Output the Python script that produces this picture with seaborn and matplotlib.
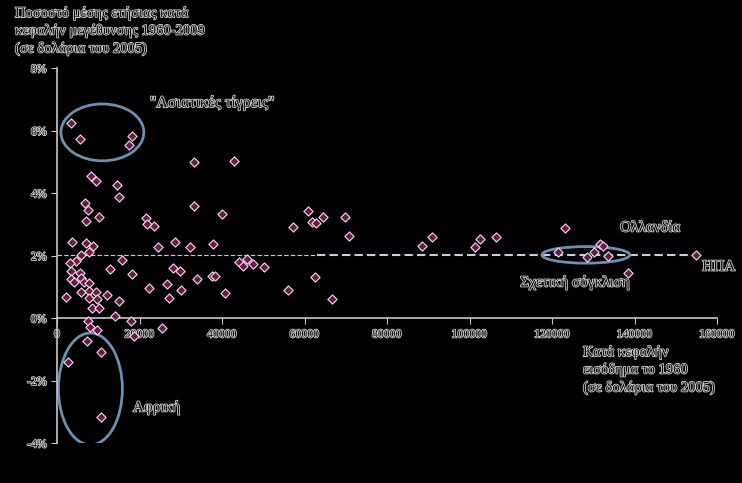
import matplotlib
matplotlib.use("Agg")
import matplotlib.pyplot as plt
import matplotlib.patheffects as pe
from matplotlib.patches import Ellipse
import pandas as pd
import seaborn as sns

# Income per capita in 1960 (2005 dollars) and average annual growth 1960-2009 (%)
income_1960 = [3400, 5600, 18200, 17500,
               33200, 42900, 8200, 9500, 14500, 15000, 6700, 7400, 10200, 7000,
               33200, 39900, 21600, 21900, 23500, 3700, 7000, 8800, 7800, 5700,
               4500, 3200, 3400, 3400, 4000, 5600, 5800, 6500, 7800, 5700, 2300,
               7800, 9500, 7800, 9600, 8400, 10100, 12800, 15800, 18300, 12200,
               15100, 14100, 17900, 24600, 28600, 32200, 37700, 28000, 29700,
               33900, 37600, 38300, 26600, 22200, 30100, 27100, 40700, 44000,
               45100, 46000, 47400, 50200, 56100, 7400, 8000, 9600, 25500, 18700,
               7200, 10600, 2600, 10600,
               57100, 60900, 61900, 62900, 64400, 69800, 70900, 88600, 90900,
               101300, 102500, 106400, 62500, 66600,
               123100, 121500, 128600, 130200, 131600, 132400, 133600, 138400,
               154800]
growth = [6.25, 5.74, 5.81, 5.55,
          4.99, 5.02, 4.53, 4.37, 4.25, 3.87, 3.68, 3.45, 3.24, 3.11,
          3.60, 3.32, 3.20, 3.01, 2.96, 2.42, 2.39, 2.30, 2.10, 2.02,
          1.83, 1.77, 1.51, 1.24, 1.16, 1.45, 1.27, 1.16, 1.11, 0.84, 0.68,
          0.87, 0.83, 0.63, 0.61, 0.32, 0.31, 1.56, 1.86, 1.40, 0.75,
          0.55, 0.05, -0.09, 2.28, 2.42, 2.28, 2.37, 1.60, 1.50,
          1.26, 1.34, 1.35, 1.10, 0.95, 0.91, 0.64, 0.79, 1.79,
          1.65, 1.90, 1.72, 1.63, 0.89, -0.11, -0.28, -0.38, -0.33, -0.56,
          -0.74, -1.08, -1.42, -3.18,
          2.92, 3.43, 3.07, 3.05, 3.24, 3.24, 2.64, 2.32, 2.60,
          2.28, 2.52, 2.59, 1.31, 0.61,
          2.89, 2.10, 1.94, 2.10, 2.37, 2.31, 1.99, 1.43,
          2.02]

usa_income = 154800
usa_growth = 2.02

x_ticks = [0, 20000, 40000, 60000, 80000, 100000, 120000, 140000, 160000]
y_ticks = [-4, -2, 0, 2, 4, 6, 8]
y_tick_labels = ["-4%", "-2%", "0%", "2%", "4%", "6%", "8%"]

df = pd.DataFrame({"income": income_1960, "growth": growth})

plt.rcParams["font.family"] = ["Liberation Serif", "DejaVu Serif"]

fig = plt.figure(figsize=(7.42, 4.83), dpi=100, facecolor="black")
ax = fig.add_axes([57 / 742, 40 / 483, 660 / 742, 375 / 483])
ax.set_facecolor("black")

halo = [pe.withStroke(linewidth=1.2, foreground="#cfcfcf")]
txt = dict(color="#101010", path_effects=halo)

# reference line at US growth rate
ax.plot([0, 63000], [usa_growth, usa_growth], ls=(0, (4, 2)), lw=0.8, color="#c6cfe0", zorder=1)
ax.plot([63000, usa_income], [usa_growth, usa_growth], ls=(0, (4, 2)), lw=1.5, color="#c6cfe0", zorder=1)

sns.scatterplot(data=df, x="income", y="growth", ax=ax, marker="D", s=22,
                color="#6b1a45", edgecolor="#f0dff0", linewidth=0.8, zorder=3, legend=False)

# circled groups
for cx, cy, w, h in [(11000, 5.94, 20100, 1.82), (8100, -2.27, 15500, 3.58), (128200, 2.02, 21300, 0.53)]:
    ax.add_patch(Ellipse((cx, cy), w, h, fill=False, ec="#6f8fb0", lw=2, zorder=2))

ax.set_xlim(0, 160000)
ax.set_ylim(-4, 8)
ax.set_xticks(x_ticks)
ax.set_xticklabels([str(v) for v in x_ticks])
ax.set_yticks(y_ticks)
ax.set_yticklabels(y_tick_labels)
ax.set_xlabel("")
ax.set_ylabel("")

ax.spines["top"].set_visible(False)
ax.spines["right"].set_visible(False)
ax.spines["bottom"].set_position(("data", 0))
for s in ["left", "bottom"]:
    ax.spines[s].set_color("#c8c8c8")
    ax.spines[s].set_linewidth(1.2)
ax.tick_params(colors="#c8c8c8", labelsize=8.5, length=4)
for lab in ax.get_xticklabels() + ax.get_yticklabels():
    lab.set_color("#101010")
    lab.set_path_effects(halo)

ax.text(22500, 6.88, "\"Ασιατικές τίγρεις\"", fontsize=11.5, ha="left", va="center", **txt)
ax.text(136500, 2.88, "Ολλανδία", fontsize=11, ha="left", va="center", **txt)
ax.text(125600, 1.12, "Σχετική σύγκλιση", fontsize=11, ha="center", va="center", **txt)
ax.text(156400, 1.63, "ΗΠΑ", fontsize=11, ha="left", va="center", **txt)
ax.text(18400, -2.88, "Αφρική", fontsize=11, ha="left", va="center", **txt)

fig.text(15 / 742, 1 - 7 / 483, "Ποσοστό μέσης ετήσιας κατά\nκεφαλήν μεγέθυνσης 1960-2009\n(σε δολάρια του 2005)",
         fontsize=10.5, ha="left", va="top", linespacing=1.45, **txt)
fig.text(583 / 742, 1 - 346 / 483, "Κατά κεφαλήν\nεισόδημα το 1960\n(σε δολάρια του 2005)",
         fontsize=10.5, ha="left", va="top", linespacing=1.45, **txt)

fig.savefig("out.png", dpi=100, facecolor="black")
